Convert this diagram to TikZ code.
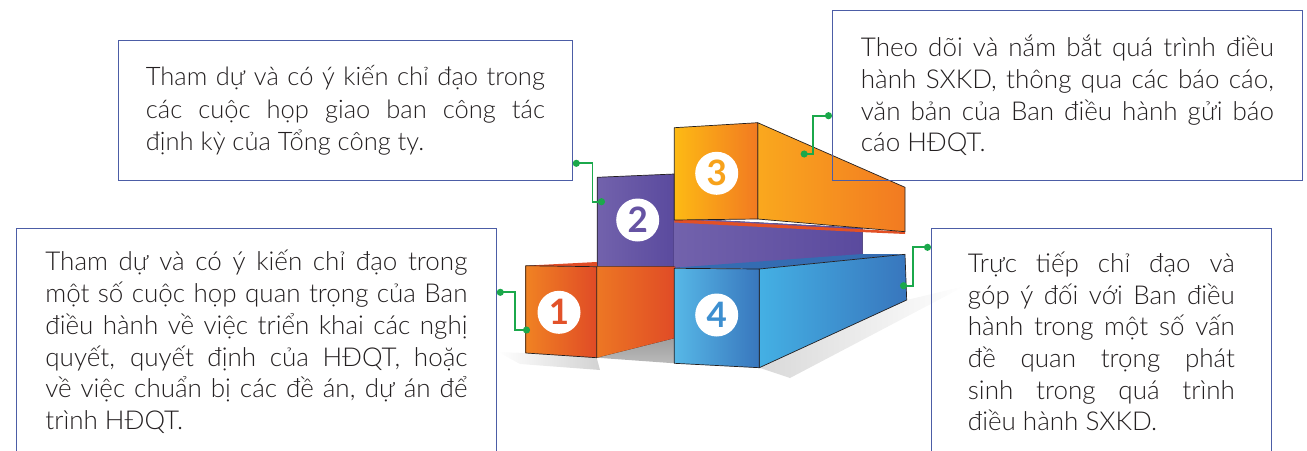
\documentclass[tikz,border=0pt]{standalone}
\usepackage{fontspec}
\setmainfont{Lato}[UprightFont=* Light, BoldFont=* Bold]
\usetikzlibrary{calc,arrows.meta}

\definecolor{boxline}{RGB}{76,93,166}
\definecolor{ink}{RGB}{35,31,32}
\definecolor{linkgreen}{RGB}{27,168,75}
\definecolor{redA}{RGB}{240,130,35}
\definecolor{redB}{RGB}{224,75,38}
\definecolor{purpleA}{RGB}{114,98,172}
\definecolor{purpleB}{RGB}{90,74,158}
\definecolor{yellowA}{RGB}{253,186,20}
\definecolor{orangeA}{RGB}{250,168,30}
\definecolor{orangeB}{RGB}{242,122,33}
\definecolor{blueA}{RGB}{68,176,228}
\definecolor{blueB}{RGB}{56,118,189}
\definecolor{blueTop}{RGB}{52,108,178}
\definecolor{numred}{RGB}{226,82,42}
\definecolor{numpurple}{RGB}{102,83,163}
\definecolor{numorange}{RGB}{247,162,27}
\definecolor{numblue}{RGB}{61,143,208}

\begin{document}
\begin{tikzpicture}[x=1pt, y=-1pt,
  infobox/.style={draw=boxline, line width=0.8pt, text=ink, align=justify,
    anchor=north west, font=\fontsize{26}{31.7}\selectfont},
  num/.style={circle, fill=white, minimum size=43pt, inner sep=0pt,
    font=\fontsize{35}{35}\selectfont\bfseries},
  blockedge/.style={draw=ink, line width=0.7pt, line join=round},
  link/.style={draw=linkgreen, line width=1.8pt,
    {Circle[length=7pt]}-{Circle[length=7pt]}}]
  \useasboundingbox (0,0) rectangle (1307,450);
  \clip (0,0) rectangle (1307,450);

  % Shadows under the blocks
  \shade[left color=white, right color=gray!35]
    (498,352) -- (525.7,353) -- (596.7,357.7) -- (600,370) -- (520,364) -- cycle;
  \shade[left color=gray!30, right color=white]
    (759.3,367.7) -- (906.7,300) -- (965,286) -- (790,378) -- cycle;
  \shade[top color=gray!75, bottom color=gray!55]
    (596.7,357.7) -- (675,338) -- (674.3,363.3) -- cycle;

  % Block 2 (purple)
  \draw[blockedge, left color=purpleA, right color=purpleB]
    (597.3,177.3) -- (674.3,174) -- (674.3,266.7) -- (597.3,266.7) -- cycle;
  \fill[left color=purpleA, right color=purpleB]
    (674.3,218) -- (862.7,228) -- (862.7,258) -- (674.3,268) -- cycle;

  % Block 1 (red)
  \fill[redB] (525.7,265.7) -- (596.7,262) -- (597.3,266.7) -- cycle;
  \fill[left color=redA!80!redB, right color=redB]
    (596.7,266.7) -- (675,266.7) -- (675,338) -- (596.7,357.7) -- cycle;
  \draw[blockedge, left color=redA, right color=redB]
    (525.7,265.7) -- (596.7,266.7) -- (596.7,357.7) -- (525.7,353) -- cycle;

  % Block 4 (blue)
  \fill[blueTop] (674.3,267.7) -- (862.7,254) -- (905,254.3) -- (759.3,269) -- cycle;
  \draw[blockedge, left color=blueA, right color=blueB]
    (759.3,269) -- (905,254.3) -- (906.7,300) -- (759.3,367.7) -- cycle;
  \draw[blockedge, left color=blueA!90!white, right color=blueB]
    (674.3,268.3) -- (759.3,269) -- (759.3,367.7) -- (674.3,363.3) -- cycle;

  % Block 3 (orange)
  \fill[redB!90!orangeB] (674.3,219) -- (905,231.7) -- (905,234) -- (860,232) -- (674.3,222.5) -- cycle;
  \draw[blockedge, left color=orangeA, right color=orangeB]
    (757.7,122.7) -- (905,187.3) -- (905,231.7) -- (757.7,219) -- cycle;
  \draw[blockedge, left color=yellowA, right color=orangeB]
    (674.3,127.7) -- (757.7,122.7) -- (757.7,219) -- (674.3,220) -- cycle;

  % Numbers
  \foreach \n/\px/\py/\c in {1/559/312.3/numred, 2/637.7/220/numpurple,
                             3/716.7/173.3/numorange, 4/716.7/315/numblue}
    \node[num, text=\c] (c\n) at (\px,\py) {\n};

  % Text boxes
  \node[infobox, text width=399pt, inner xsep=27.5pt, minimum height=140pt,
    font=\fontsize{25.5}{32.5}\selectfont] (boxA) at (118,40)
    {Tham dự và có ý kiến chỉ đạo trong\linebreak
     các cuộc họp giao ban công tác\linebreak
     định kỳ của Tổng công ty.};
  \node[infobox, text width=422pt, inner xsep=29pt, minimum height=227pt] (boxB) at (16,228)
    {Tham dự và có ý kiến chỉ đạo trong\linebreak
     một số cuộc họp quan trọng của Ban\linebreak
     điều hành về việc triển khai các nghị\linebreak
     quyết, quyết định của HĐQT, hoặc\linebreak
     về việc chuẩn bị các đề án, dự án để\linebreak
     trình HĐQT.};
  \node[infobox, text width=413pt, inner xsep=28.5pt, minimum height=170pt] (boxC) at (832,10)
    {Theo dõi và nắm bắt quá trình điều\linebreak
     hành SXKD, thông qua các báo cáo,\linebreak
     văn bản của Ban điều hành gửi báo\linebreak
     cáo HĐQT.};
  \node[infobox, text width=267pt, inner xsep=36.5pt, minimum height=226pt] (boxD) at (931,228)
    {Trực tiếp chỉ đạo và\linebreak
     góp ý đối với Ban điều\linebreak
     hành trong một số vấn\linebreak
     đề quan trọng phát\linebreak
     sinh trong quá trình\linebreak
     điều hành SXKD.};

  % Connectors
  \coordinate (d1) at (530,330);
  \coordinate (d2) at (605,201.7);
  \coordinate (d3) at (800.7,154);
  \coordinate (d4) at (900,285.7);
  \draw[link] ($(boxB.north east)+(0,64.3)$) -- ++(18,0) |- (d1);
  \draw[link] ($(boxA.north east)+(0,123.3)$) -- ++(19.7,0) |- (d2);
  \draw[link] ($(boxC.north west)+(0,105.7)$) -- ++(-18.7,0) |- (d3);
  \draw[link] ($(boxD.north west)+(0,19.3)$) -- ++(-17.7,0) |- (d4);
\end{tikzpicture}
\end{document}
